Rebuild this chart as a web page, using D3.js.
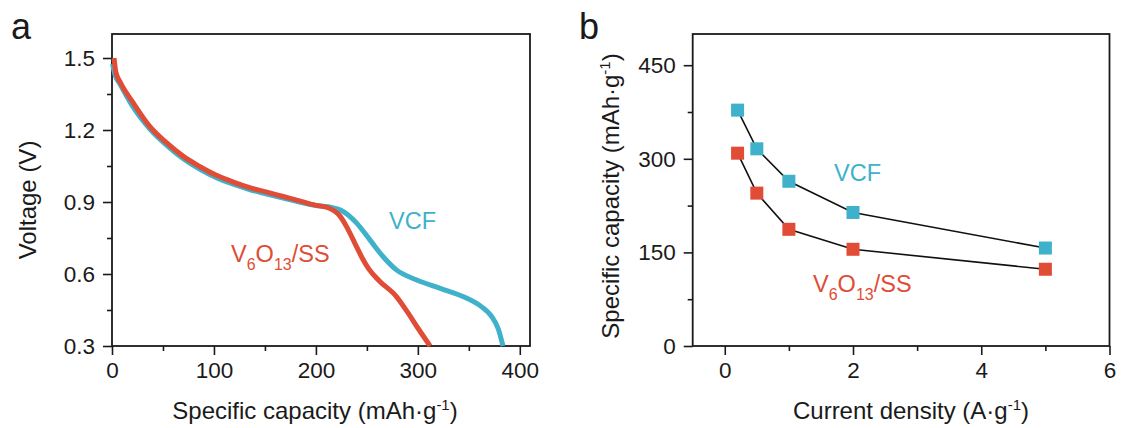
<html>
<script src="https://d3js.org/d3.v7.min.js"></script>
<style>
  body { margin: 0; background: #fff; }
  text { font-family: Arial, "Liberation Sans", sans-serif; fill: #1a1a1a; }
</style>
<body>
<svg width="1121" height="428"></svg>
<script>
// panel a: discharge curves
var vcfCap  = [0.5, 3, 8, 20, 37, 54, 70, 86, 103, 119, 135, 152, 168, 184, 200, 212, 227, 240, 253, 266, 279, 299, 322, 346, 362, 372, 379, 383.5];
var vcfVolt = [1.475, 1.43, 1.39, 1.30, 1.205, 1.135, 1.08, 1.037, 1.0, 0.974, 0.952, 0.933, 0.916, 0.9, 0.886, 0.88, 0.86, 0.812, 0.742, 0.672, 0.617, 0.575, 0.54, 0.503, 0.465, 0.425, 0.37, 0.3];
var ssCap   = [2, 3.8, 8, 21, 37, 54, 70, 86, 103, 119, 135, 152, 168, 184, 200, 212, 223.5, 231, 238, 245, 252, 262, 279, 290, 300, 312];
var ssVolt  = [1.5, 1.44, 1.40, 1.312, 1.215, 1.145, 1.09, 1.048, 1.01, 0.983, 0.96, 0.941, 0.923, 0.905, 0.886, 0.876, 0.842, 0.79, 0.73, 0.67, 0.62, 0.572, 0.506, 0.44, 0.375, 0.3];
var aXTicks = [0, 100, 200, 300, 400];
var aYTicks = [0.3, 0.6, 0.9, 1.2, 1.5];

// panel b: rate capability
var rate    = [0.2, 0.5, 1, 2, 5];
var vcfRate = [378, 316, 264, 214, 157];
var ssRate  = [309, 245, 187, 155, 123];
var bXTicks = [0, 2, 4, 6];
var bYTicks = [0, 150, 300, 450];

var teal = "#3fb1ca", red = "#e04c35";
var svg = d3.select("svg");

function frame(x, y, xMaj, xMin, yMaj, yMin, xFmt, yFmt) {
  var g = svg.append("g");
  var r = x.range(), t = y.range();
  // minor ticks
  g.append("g").attr("transform", "translate(0," + t[0] + ")")
    .call(d3.axisBottom(x).tickValues(xMin).tickSize(5).tickFormat(""));
  g.append("g").attr("transform", "translate(" + r[0] + ",0)")
    .call(d3.axisLeft(y).tickValues(yMin).tickSize(5).tickFormat(""));
  // major ticks
  g.append("g").attr("transform", "translate(0," + t[0] + ")")
    .call(d3.axisBottom(x).tickValues(xMaj).tickSize(9).tickPadding(7).tickFormat(xFmt))
    .selectAll("text").style("font-size", "22.5px");
  g.append("g").attr("transform", "translate(" + r[0] + ",0)")
    .call(d3.axisLeft(y).tickValues(yMaj).tickSize(9).tickPadding(8).tickFormat(yFmt))
    .selectAll("text").style("font-size", "22.5px");
  g.selectAll(".domain").remove();
  g.selectAll(".tick line").attr("stroke", "#1a1a1a").attr("stroke-width", 1.6);
  g.append("rect").attr("x", r[0]).attr("y", t[1])
    .attr("width", r[1] - r[0]).attr("height", t[0] - t[1])
    .attr("fill", "none").attr("stroke", "#1a1a1a").attr("stroke-width", 1.8);
}

function label(x, y, color, parts) {
  var t = svg.append("text").attr("x", x).attr("y", y).style("font-size", "23.5px").style("fill", color);
  parts.forEach(function(p) {
    if (p.sub) t.append("tspan").attr("dy", 8).style("font-size", "16px").text(p.s);
    else t.append("tspan").attr("dy", p.back ? -8 : 0).text(p.s);
  });
}

function title(x, y, rot, main, sup, tail) {
  var t = svg.append("text").attr("text-anchor", "middle").style("font-size", "24px")
    .attr("transform", "translate(" + x + "," + y + ")" + (rot ? " rotate(-90)" : ""));
  t.append("tspan").text(main);
  if (sup) {
    t.append("tspan").attr("dy", -9).style("font-size", "15px").text(sup);
    t.append("tspan").attr("dy", 9).text(tail);
  }
}

// ---- panel a ----
var xa = d3.scaleLinear().domain([0, 410]).range([112, 530]);
var ya = d3.scaleLinear().domain([0.3, 1.6]).range([346, 34]);
frame(xa, ya, aXTicks, [50, 150, 250, 350], aYTicks, [0.45, 0.75, 1.05, 1.35], d3.format("d"), d3.format(".1f"));

var lineA = d3.line().x(d => xa(d[0])).y(d => ya(d[1])).curve(d3.curveMonotoneX);
svg.append("path").datum(d3.zip(vcfCap, vcfVolt)).attr("d", lineA)
  .attr("fill", "none").attr("stroke", teal).attr("stroke-width", 5);
svg.append("path").datum(d3.zip(ssCap, ssVolt)).attr("d", lineA)
  .attr("fill", "none").attr("stroke", red).attr("stroke-width", 5);

label(389, 229, teal, [{s: "VCF"}]);
label(231, 262, red, [{s: "V"}, {s: "6", sub: 1}, {s: "O", back: 1}, {s: "13", sub: 1}, {s: "/SS", back: 1}]);

title(315, 419, false, "Specific capacity (mAh\u00b7g", "-1", ")");
title(36, 200, true, "Voltage (V)");
svg.append("text").attr("x", 11).attr("y", 39).style("font-size", "36px").text("a");

// ---- panel b ----
var xb = d3.scaleLinear().domain([-0.5, 6]).range([692.7, 1109.5]);
var yb = d3.scaleLinear().domain([0, 500]).range([346, 34]);
frame(xb, yb, bXTicks, [1, 3, 5], bYTicks, [75, 225, 375], d3.format("d"), d3.format("d"));

var lineB = d3.line().x(d => xb(d[0])).y(d => yb(d[1]));
[[vcfRate, teal], [ssRate, red]].forEach(function(s) {
  var pts = d3.zip(rate, s[0]);
  svg.append("path").datum(pts).attr("d", lineB)
    .attr("fill", "none").attr("stroke", "#111").attr("stroke-width", 1.6);
  svg.append("g").selectAll("rect").data(pts).join("rect")
    .attr("x", d => xb(d[0]) - 6.5).attr("y", d => yb(d[1]) - 6.5)
    .attr("width", 13).attr("height", 13).attr("fill", s[1]);
});

label(834, 181, teal, [{s: "VCF"}]);
label(813, 292, red, [{s: "V"}, {s: "6", sub: 1}, {s: "O", back: 1}, {s: "13", sub: 1}, {s: "/SS", back: 1}]);

title(911, 419, false, "Current density (A\u00b7g", "-1", ")");
title(619, 196, true, "Specific capacity (mAh\u00b7g", "-1", ")");
svg.append("text").attr("x", 579).attr("y", 39).style("font-size", "36px").text("b");
</script>
</body>
</html>
